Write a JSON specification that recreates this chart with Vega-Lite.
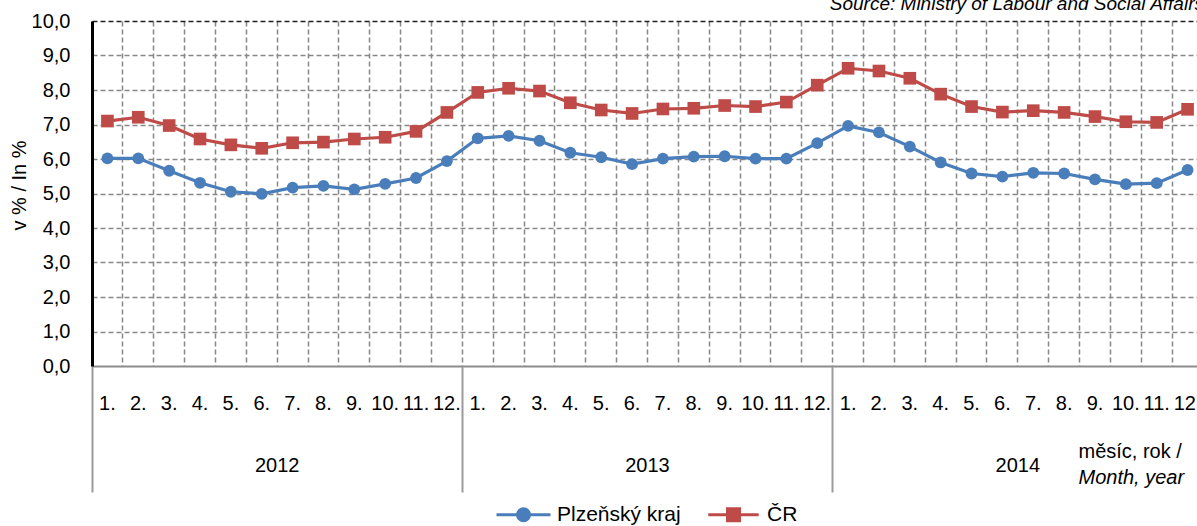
{
  "$schema": "https://vega.github.io/schema/vega-lite/v6.json",
  "autosize": {"type": "none"},
  "width": 1105,
  "height": 345,
  "padding": {"left": 92, "top": 21, "right": 0, "bottom": 160},
  "background": "white",
  "config": {"font": "Liberation Sans", "view": {"stroke": null}},
  "title": {"text": "Source: Ministry of Labour and Social Affairs", "anchor": "end", "frame": "group", "orient": "top", "fontStyle": "italic", "fontWeight": "normal", "fontSize": 19, "color": "#000000", "font": "Liberation Sans", "offset": -3, "dx": 7},
  "datasets": {
    "main": [
      {"period": "2012-01", "series": "Plzeňský kraj", "value": 6.02},
      {"period": "2012-02", "series": "Plzeňský kraj", "value": 6.02},
      {"period": "2012-03", "series": "Plzeňský kraj", "value": 5.66},
      {"period": "2012-04", "series": "Plzeňský kraj", "value": 5.31},
      {"period": "2012-05", "series": "Plzeňský kraj", "value": 5.05},
      {"period": "2012-06", "series": "Plzeňský kraj", "value": 4.99},
      {"period": "2012-07", "series": "Plzeňský kraj", "value": 5.17},
      {"period": "2012-08", "series": "Plzeňský kraj", "value": 5.22},
      {"period": "2012-09", "series": "Plzeňský kraj", "value": 5.12},
      {"period": "2012-10", "series": "Plzeňský kraj", "value": 5.28},
      {"period": "2012-11", "series": "Plzeňský kraj", "value": 5.45},
      {"period": "2012-12", "series": "Plzeňský kraj", "value": 5.94},
      {"period": "2013-01", "series": "Plzeňský kraj", "value": 6.60},
      {"period": "2013-02", "series": "Plzeňský kraj", "value": 6.67},
      {"period": "2013-03", "series": "Plzeňský kraj", "value": 6.53},
      {"period": "2013-04", "series": "Plzeňský kraj", "value": 6.18},
      {"period": "2013-05", "series": "Plzeňský kraj", "value": 6.05},
      {"period": "2013-06", "series": "Plzeňský kraj", "value": 5.85},
      {"period": "2013-07", "series": "Plzeňský kraj", "value": 6.01},
      {"period": "2013-08", "series": "Plzeňský kraj", "value": 6.07},
      {"period": "2013-09", "series": "Plzeňský kraj", "value": 6.08},
      {"period": "2013-10", "series": "Plzeňský kraj", "value": 6.01},
      {"period": "2013-11", "series": "Plzeňský kraj", "value": 6.01},
      {"period": "2013-12", "series": "Plzeňský kraj", "value": 6.46},
      {"period": "2014-01", "series": "Plzeňský kraj", "value": 6.96},
      {"period": "2014-02", "series": "Plzeňský kraj", "value": 6.77},
      {"period": "2014-03", "series": "Plzeňský kraj", "value": 6.36},
      {"period": "2014-04", "series": "Plzeňský kraj", "value": 5.90},
      {"period": "2014-05", "series": "Plzeňský kraj", "value": 5.58},
      {"period": "2014-06", "series": "Plzeňský kraj", "value": 5.49},
      {"period": "2014-07", "series": "Plzeňský kraj", "value": 5.60},
      {"period": "2014-08", "series": "Plzeňský kraj", "value": 5.58},
      {"period": "2014-09", "series": "Plzeňský kraj", "value": 5.41},
      {"period": "2014-10", "series": "Plzeňský kraj", "value": 5.27},
      {"period": "2014-11", "series": "Plzeňský kraj", "value": 5.30},
      {"period": "2014-12", "series": "Plzeňský kraj", "value": 5.68},
      {"period": "2012-01", "series": "ČR", "value": 7.10},
      {"period": "2012-02", "series": "ČR", "value": 7.21},
      {"period": "2012-03", "series": "ČR", "value": 6.97},
      {"period": "2012-04", "series": "ČR", "value": 6.58},
      {"period": "2012-05", "series": "ČR", "value": 6.41},
      {"period": "2012-06", "series": "ČR", "value": 6.31},
      {"period": "2012-07", "series": "ČR", "value": 6.47},
      {"period": "2012-08", "series": "ČR", "value": 6.49},
      {"period": "2012-09", "series": "ČR", "value": 6.58},
      {"period": "2012-10", "series": "ČR", "value": 6.63},
      {"period": "2012-11", "series": "ČR", "value": 6.80},
      {"period": "2012-12", "series": "ČR", "value": 7.35},
      {"period": "2013-01", "series": "ČR", "value": 7.93},
      {"period": "2013-02", "series": "ČR", "value": 8.05},
      {"period": "2013-03", "series": "ČR", "value": 7.97},
      {"period": "2013-04", "series": "ČR", "value": 7.63},
      {"period": "2013-05", "series": "ČR", "value": 7.42},
      {"period": "2013-06", "series": "ČR", "value": 7.32},
      {"period": "2013-07", "series": "ČR", "value": 7.45},
      {"period": "2013-08", "series": "ČR", "value": 7.47},
      {"period": "2013-09", "series": "ČR", "value": 7.55},
      {"period": "2013-10", "series": "ČR", "value": 7.52},
      {"period": "2013-11", "series": "ČR", "value": 7.65},
      {"period": "2013-12", "series": "ČR", "value": 8.14},
      {"period": "2014-01", "series": "ČR", "value": 8.63},
      {"period": "2014-02", "series": "ČR", "value": 8.55},
      {"period": "2014-03", "series": "ČR", "value": 8.34},
      {"period": "2014-04", "series": "ČR", "value": 7.88},
      {"period": "2014-05", "series": "ČR", "value": 7.52},
      {"period": "2014-06", "series": "ČR", "value": 7.36},
      {"period": "2014-07", "series": "ČR", "value": 7.40},
      {"period": "2014-08", "series": "ČR", "value": 7.35},
      {"period": "2014-09", "series": "ČR", "value": 7.23},
      {"period": "2014-10", "series": "ČR", "value": 7.08},
      {"period": "2014-11", "series": "ČR", "value": 7.06},
      {"period": "2014-12", "series": "ČR", "value": 7.44}
    ],
    "seriesList": [
      {"series": "Plzeňský kraj"},
      {"series": "ČR"}
    ],
    "years": [
      {"year": "2012"},
      {"year": "2013"},
      {"year": "2014"}
    ]
  },
  "layer": [
    {
      "data": {"name": "main"},
      "encoding": {
        "x": {
          "field": "period", "type": "ordinal", "sort": "ascending",
          "scale": {"type": "band", "paddingInner": 0, "paddingOuter": 0, "range": [0, 1111]},
          "axis": {
            "title": "měsíc, rok /",
            "titleX": 986, "titleY": 91, "titleAlign": "left", "titleAnchor": null, "titleBaseline": "alphabetic",
            "titleFontSize": 20, "titleFontWeight": "normal", "titleColor": "#000000", "titleFont": "Liberation Sans",
            "bandPosition": 0,
            "labelExpr": "toNumber(slice(datum.value, 5)) + '.'",
            "labelFontSize": 20, "labelColor": "#000000", "labelPadding": 27, "labelOverlap": false, "labelAngle": 0, "labelBaseline": "top", "labelFont": "Liberation Sans",
            "ticks": false, "domainColor": "#8c8c8c", "domainWidth": 2,
            "grid": true, "gridDash": [5, 3], "gridColor": "#888888", "gridWidth": 1.5
          }
        },
        "y": {
          "field": "value", "type": "quantitative",
          "scale": {"domain": [0, 10], "nice": false, "zero": true},
          "axis": {
            "title": "v % / In %", "titleFontSize": 20, "titleFontWeight": "normal", "titleColor": "#000000", "titlePadding": 2, "titleY": 164, "titleFont": "Liberation Sans",
            "values": [0, 1, 2, 3, 4, 5, 6, 7, 8, 9, 10], "tickCount": 20,
            "labelExpr": "replace(format(datum.value, '.1f'), '.', ',')",
            "labelFontSize": 20, "labelColor": "#000000", "labelPadding": 22, "labelFont": "Liberation Sans", "labelOverlap": false,
            "ticks": false, "domainColor": "#000000", "domainWidth": 3,
            "grid": true, "gridDash": [5, 3], "gridWidth": 1.5,
            "gridColor": {"condition": {"test": "datum.value === 10", "value": "#222222"}, "value": "#888888"},
            "gridOpacity": {"condition": {"test": "datum.value === 0", "value": 0}, "value": 1}
          }
        }
      },
      "layer": [
        {
          "transform": [{"filter": "datum.series === 'Plzeňský kraj'"}],
          "mark": {"type": "line", "strokeWidth": 3.2, "color": "#4A7EBB"}
        },
        {
          "transform": [{"filter": "datum.series === 'ČR'"}],
          "mark": {"type": "line", "strokeWidth": 3.2, "color": "#BE4B48"}
        },
        {
          "transform": [{"filter": "datum.series === 'Plzeňský kraj'"}],
          "mark": {"type": "point", "shape": "circle", "filled": true, "size": 140, "opacity": 1, "color": "#4A7EBB"}
        },
        {
          "transform": [{"filter": "datum.series === 'ČR'"}],
          "mark": {"type": "point", "shape": "square", "filled": true, "size": 160, "opacity": 1, "color": "#BE4B48"}
        }
      ]
    },
    {
      "data": {"name": "seriesList"},
      "mark": {"type": "point", "filled": true, "opacity": 0},
      "encoding": {
        "fill": {
          "field": "series", "type": "nominal",
          "scale": {"domain": ["Plzeňský kraj", "ČR"], "range": ["#4A7EBB", "#BE4B48"]},
          "legend": {
            "orient": "none", "legendX": 421, "legendY": 483, "direction": "horizontal", "title": null,
            "labelFontSize": 21, "labelColor": "#000000", "labelFont": "Liberation Sans",
            "symbolSize": 144, "symbolStrokeWidth": 3, "labelOffset": 23, "columnPadding": 21,
            "symbolOpacity": 1, "symbolFillColor": "#4A7EBB"
          }
        },
        "stroke": {
          "field": "series", "type": "nominal",
          "scale": {"domain": ["Plzeňský kraj", "ČR"], "range": ["#4A7EBB", "#BE4B48"]},
          "legend": {"symbolFillColor": "#4A7EBB"}
        },
        "shape": {
          "field": "series", "type": "nominal",
          "scale": {"domain": ["Plzeňský kraj", "ČR"], "range": ["M-4.5,0H4.5M-1,0A1,1,0,1,0,1,0A1,1,0,1,0,-1,0Z", "M-4.2,0H4.2M-1,-1H1V1H-1Z"]},
          "legend": {"symbolFillColor": "#4A7EBB"}
        }
      }
    },
    {
      "data": {"name": "years"},
      "mark": {"type": "point", "opacity": 0},
      "encoding": {
        "x": {
          "field": "year", "type": "ordinal",
          "scale": {"type": "band", "paddingInner": 0, "paddingOuter": 0, "range": [0, 1111]},
          "axis": {
            "orient": "bottom",
            "title": "Month, year",
            "titleX": 986, "titleY": 117, "titleAlign": "left", "titleAnchor": null, "titleBaseline": "alphabetic",
            "titleFontSize": 20, "titleFontWeight": "normal", "titleFontStyle": "italic", "titleColor": "#000000", "titleFont": "Liberation Sans",
            "bandPosition": 0,
            "labelFontSize": 20, "labelColor": "#000000", "labelPadding": -37, "labelAngle": 0, "labelBaseline": "top", "labelFont": "Liberation Sans",
            "ticks": true, "tickSize": 126, "tickColor": "#9a9a9a", "tickWidth": 2,
            "domain": false, "grid": false
          }
        }
      }
    }
  ],
  "resolve": {"scale": {"x": "independent"}, "axis": {"x": "independent"}}
}
